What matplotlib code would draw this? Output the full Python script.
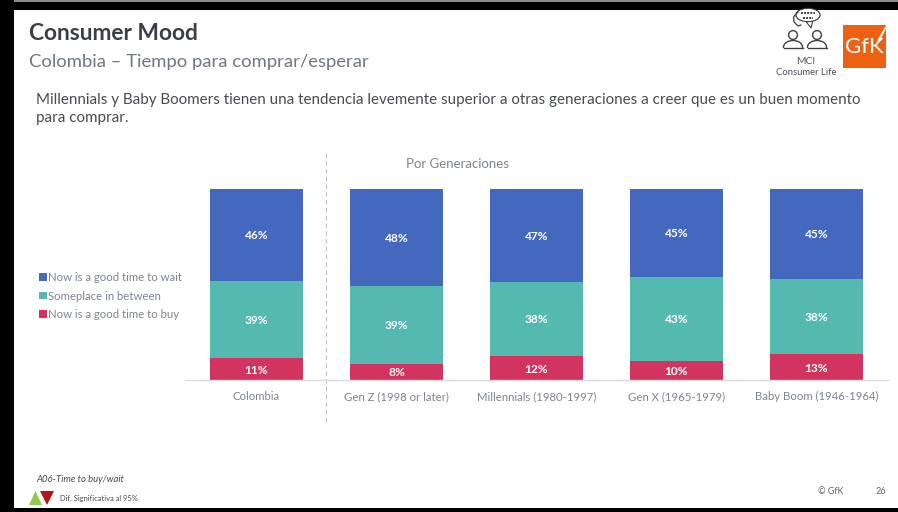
import matplotlib
matplotlib.use("Agg")
import matplotlib.pyplot as plt
from matplotlib.patches import Rectangle, Polygon, Circle, Ellipse
import numpy as np

plt.rcParams['font.family'] = ['Lato', 'DejaVu Sans']

groups = ["Colombia", "Gen Z (1998 or later)", "Millennials (1980-1997)", "Gen X (1965-1979)", "Baby Boom (1946-1964)"]
buy = [11, 8, 12, 10, 13]
between = [39, 39, 38, 43, 38]
wait = [46, 48, 47, 45, 45]

series_names = ["Now is a good time to buy", "Someplace in between", "Now is a good time to wait"]
series_colors = ["#D3335F", "#54B9AE", "#4468BE"]

GREY = "#7D8590"

fig = plt.figure(figsize=(8.98, 5.12), dpi=100)
fig.patch.set_facecolor("white")

# overlay in pixel coordinates for frame, headings and icons
bg = fig.add_axes([0, 0, 1, 1])
bg.set_xlim(0, 898)
bg.set_ylim(512, 0)
bg.axis("off")

# black slide border
bg.add_patch(Rectangle((0, 0), 898, 2, color="#8A8A8A", lw=0))
bg.add_patch(Rectangle((0, 2), 898, 7.5, color="black", lw=0))
bg.add_patch(Rectangle((0, 0), 14, 512, color="black", lw=0))
bg.add_patch(Rectangle((0, 508), 898, 4, color="black", lw=0))

bg.text(29, 34, "Consumer Mood", fontsize=16.4, fontweight="bold", color="#3A3F45", va="center")
bg.text(29, 62.5, "Colombia – Tiempo para comprar/esperar", fontsize=13.3, color="#6F7780", va="center")
bg.text(36, 100, "Millennials y Baby Boomers tienen una tendencia levemente superior a otras generaciones a creer que es un buen momento",
        fontsize=10.89, color="#474C52", va="center")
bg.text(36, 118, "para comprar.", fontsize=10.89, color="#474C52", va="center")
bg.text(457.5, 164, "Por Generaciones", fontsize=9.5, color=GREY, ha="center", va="center")

# separator between the total and the generations
bg.plot([326, 326], [153, 423], color="#BDBFC3", lw=0.8, ls=(0, (4, 3)))

# stacked bars, each normalised to its own total
ax = fig.add_axes([185 / 898, (512 - 380) / 512, (888 - 185) / 898, (380 - 189) / 512])
ax.patch.set_alpha(0)
x = np.arange(len(groups))
totals = np.array(buy) + np.array(between) + np.array(wait)
bottom = np.zeros(len(groups))
handles = []
for vals, name, col in zip([buy, between, wait], series_names, series_colors):
    h = np.array(vals) / totals
    b = ax.bar(x, h, 0.664, bottom=bottom, color=col, label=name, linewidth=0)
    handles.append(b)
    for xi, bi, hi, v in zip(x, bottom, h, vals):
        ax.text(xi, bi + hi / 2, f"{v}%", color="white", fontsize=8.6, fontweight="bold",
                ha="center", va="center_baseline")
    bottom += h

ax.set_xlim(-0.511, 4.511)
ax.set_ylim(0, 1)
ax.set_yticks([])
ax.set_xticks(x)
ax.set_xticklabels(groups, fontsize=8.2, color=GREY)
ax.tick_params(axis="x", length=0, pad=8)
for s in ["top", "left", "right"]:
    ax.spines[s].set_visible(False)
ax.spines["bottom"].set_color("#DADADA")
ax.spines["bottom"].set_linewidth(1)

leg = fig.legend(handles[::-1], series_names[::-1], loc="center left",
                 bbox_to_anchor=(39 / 898, 1 - 296 / 512), frameon=False, fontsize=8.2,
                 labelcolor=GREY, handlelength=0.7, handleheight=0.62, handletextpad=0.13,
                 labelspacing=0.67, borderpad=0, borderaxespad=0)

# people with speech bubbles icon
ic = "#3F3F3F"
for cx in (793, 817):
    bg.add_patch(Circle((cx, 35), 4.4, fc="white", ec=ic, lw=1))
    bg.add_patch(Ellipse((cx, 47), 19, 13, fc="white", ec=ic, lw=1))
    bg.add_patch(Rectangle((cx - 11, 47.5), 22, 8, fc="white", ec="white", lw=0))
    bg.plot([cx - 9.5, cx + 9.5], [48, 48], color=ic, lw=1)
bg.add_patch(Polygon([[804, 19], [813, 20], [811, 28]], fc="white", ec=ic, lw=0.8))
bg.add_patch(Ellipse((808, 15), 24, 13, fc="white", ec=ic, lw=1))
bg.add_patch(Ellipse((808, 15), 22.5, 12, fc="white", ec="none"))
bg.plot([801, 815], [13, 13], color=ic, lw=1.4, ls=(0, (1, 0.6)))
bg.plot([803, 813], [17.5, 17.5], color=ic, lw=1.4, ls=(0, (1, 0.6)))
bg.plot([798, 793.5, 794, 798, 801], [12, 17, 22, 26, 25], color=ic, lw=0.9)
bg.text(806, 61, "MCI", fontsize=7.4, color="#555B63", ha="center", va="center")
bg.text(806, 72.5, "Consumer Life", fontsize=6.8, color="#4A5058", ha="center", va="center")

# orange logo
bg.add_patch(Rectangle((843, 25), 43, 43, color="#EC6212", lw=0))
bg.text(864.5, 47, "GfK", fontsize=16, color="white", ha="center", va="center")
bg.add_patch(Polygon([[877, 41], [886, 25.5], [886, 29], [879, 42]], color="white", lw=0))

# footer
bg.text(36, 480, "A06-Time to buy/wait", fontsize=6.8, style="italic", color="#454A52", va="center")
bg.add_patch(Polygon([[29, 505], [42, 505], [35.5, 491]], color="#92C84F", lw=0))
bg.add_patch(Polygon([[40, 491], [54, 491], [47, 505]], color="#B3141C", lw=0))
bg.text(60, 498.5, "Dif. Significativa al 95%", fontsize=5.4, color="#454A52", va="center")
bg.text(818.5, 492, "© GfK", fontsize=6.5, color="#5F656C", ha="left", va="center")
bg.text(881, 492, "26", fontsize=6.6, color="#5F656C", ha="center", va="center")

fig.savefig("out.png", dpi=100)
